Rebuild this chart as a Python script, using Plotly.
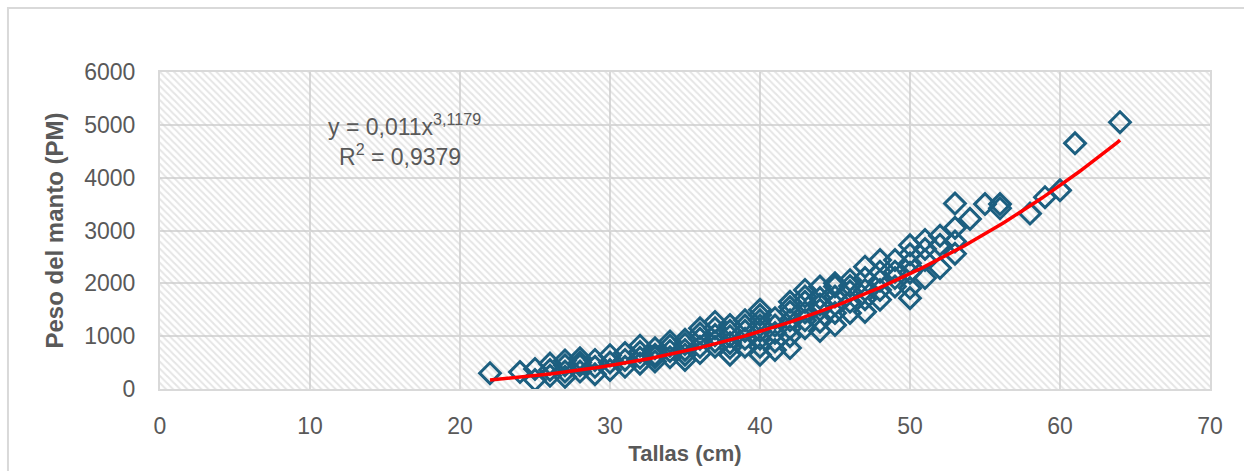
import numpy as np
import plotly.graph_objects as go

# ---- data ----
talla_groups = {
    22: [300],
    24: [320],
    25: [380, 170],
    26: [480, 250, 360],
    27: [540, 330, 230, 450],
    28: [580, 330, 450, 500],
    29: [550, 280, 420],
    30: [640, 360, 500],
    31: [680, 420, 550],
    32: [820, 590, 700, 480],
    33: [770, 520, 650, 600],
    34: [820, 600, 720, 900],
    35: [930, 740, 550, 850, 650],
    36: [1150, 800, 950, 680, 1050],
    37: [1270, 1020, 800, 900, 1150],
    38: [1210, 870, 650, 1000, 1100, 780],
    39: [1300, 1100, 800, 950, 1200],
    40: [1500, 1300, 1100, 800, 650, 950, 1400, 1200],
    41: [1340, 1060, 740, 1200, 900],
    42: [1650, 1460, 1150, 775, 1300, 1550, 1000],
    43: [1875, 1650, 1450, 1150, 1300, 1750],
    44: [1940, 1720, 1500, 1275, 1100, 1600],
    45: [1940, 1750, 1440, 1210, 1600, 2000],
    46: [2060, 1850, 1440, 1650, 1950],
    47: [2315, 1875, 1460, 2100, 1700],
    48: [2440, 2220, 1875, 1690, 2050],
    49: [2440, 2220, 1940, 2100],
    50: [2720, 2380, 1910, 1720, 2550, 2200],
    51: [2820, 2440, 2100, 2650],
    52: [2900, 2730, 2290],
    53: [3510, 3050, 2790, 2560],
    54: [3220],
    55: [3500],
    56: [3500, 3420],
    58: [3320],
    59: [3630],
    60: [3760],
    61: [4650],
    64: [5050],
}
tallas = [t for t, ys in talla_groups.items() for _ in ys]
pesos = [y for ys in talla_groups.values() for y in ys]

# trend line coefficients (power fit shown on chart)
coef_a = 0.011
coef_b = 3.1179
eq_text = "y = 0,011x<sup>3,1179</sup>"
r2_text = "R<sup>2</sup> = 0,9379"

x_range = [0, 70]
y_range = [0, 6000]

GRAY = "#595959"
GRID = "#d9d9d9"
MARK = "#1c5f80"
REG = "Liberation Sans, Arial, sans-serif"

fig = go.Figure()

# hatched plot-area background
fig.add_trace(go.Scatter(
    x=[x_range[0], x_range[1], x_range[1], x_range[0], x_range[0]],
    y=[y_range[0], y_range[0], y_range[1], y_range[1], y_range[0]],
    mode="lines", line=dict(width=0, color="rgba(0,0,0,0)"),
    fill="toself", fillcolor="rgba(0,0,0,0)",
    fillpattern=dict(shape="\\", fgcolor="#cccccc", bgcolor="rgba(0,0,0,0)",
                     size=5, solidity=0.4),
    hoverinfo="skip", showlegend=False,
))

fig.add_trace(go.Scatter(
    x=tallas, y=pesos, mode="markers",
    marker=dict(symbol="diamond-open", size=16, color=MARK,
                line=dict(width=3, color=MARK)),
    showlegend=False,
))

xt = np.linspace(min(tallas), max(tallas), 200)
fig.add_trace(go.Scatter(
    x=xt, y=coef_a * xt ** coef_b, mode="lines",
    line=dict(color="#ff0000", width=3.5), showlegend=False,
))

fig.add_annotation(x=16.3, y=5000, text=eq_text, showarrow=False,
                   font=dict(size=23, color=GRAY, family=REG),
                   xanchor="center", yanchor="middle")
fig.add_annotation(x=16.0, y=4430, text=r2_text, showarrow=False,
                   font=dict(size=23, color=GRAY, family=REG),
                   xanchor="center", yanchor="middle")

# outer chart border
fig.add_shape(type="rect", xref="paper", yref="paper",
              x0=-0.1448, x1=1.2, y0=-0.35, y1=1.202,
              line=dict(color=GRID, width=2), fillcolor="rgba(0,0,0,0)")

fig.update_layout(
    width=1244, height=471,
    margin=dict(l=160, r=34, t=72, b=82),
    paper_bgcolor="white", plot_bgcolor="white",
    font=dict(family=REG, color=GRAY),
    xaxis=dict(range=x_range, dtick=10, tick0=0, showgrid=True, gridcolor=GRID,
               gridwidth=2, showline=True, linecolor=GRID, linewidth=2, mirror=True,
               zeroline=False, ticks="", tickfont=dict(size=23, color=GRAY, family=REG),
               ticklabelstandoff=15, automargin=False,
               title=dict(text="<b>Tallas (cm)</b>",
                          font=dict(size=22, color=GRAY, family=REG),
                          standoff=8)),
    yaxis=dict(range=y_range, dtick=1000, tick0=0, showgrid=True, gridcolor=GRID,
               gridwidth=2, showline=True, linecolor=GRID, linewidth=2, mirror=True,
               zeroline=False, ticks="", tickfont=dict(size=23, color=GRAY, family=REG),
               ticklabelstandoff=18, automargin=False,
               title=dict(text="<b>Peso del manto (PM)</b>",
                          font=dict(size=24, color=GRAY, family=REG),
                          standoff=14)),
)

fig.write_html("out.html")
